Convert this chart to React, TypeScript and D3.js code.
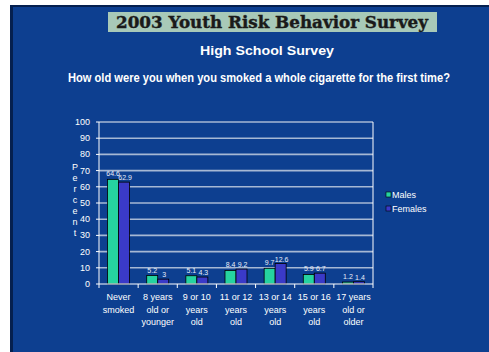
import React from "react";
import * as d3 from "d3";

const categories = [
  ["Never", "smoked"],
  ["8 years", "old or", "younger"],
  ["9 or 10", "years", "old"],
  ["11 or 12", "years", "old"],
  ["13 or 14", "years", "old"],
  ["15 or 16", "years", "old"],
  ["17 years", "old or", "older"],
];
const males = [64.6, 5.2, 5.1, 8.4, 9.7, 5.9, 1.2];
const females = [62.9, 3, 4.3, 9.2, 12.6, 6.7, 1.4];
const maleLabels = ["64.6", "5.2", "5.1", "8.4", "9.7", "5.9", "1.2"];
const femaleLabels = ["62.9", "3", "4.3", "9.2", "12.6", "6.7", "1.4"];
const yTicks = [0, 10, 20, 30, 40, 50, 60, 70, 80, 90, 100];
const seriesNames = ["Males", "Females"];

const W = 489;
const H = 352;
const BG = "#0d3f90";
const MALE = "#26d3a0";
const FEMALE = "#3a3ac8";
const GRID = "#a6b8d4";

export default function App() {
  const plot = { left: 99, right: 373, top: 122, bottom: 284 };
  const y = d3.scaleLinear().domain([0, 100]).range([plot.bottom, plot.top]);
  const x = d3
    .scaleBand<number>()
    .domain(d3.range(categories.length))
    .range([plot.left, plot.right]);
  const barW = 11;
  const font = "'Liberation Sans', Arial, sans-serif";

  return (
    <svg
      width={W}
      height={H}
      style={{ position: "absolute", left: 0, top: 0 }}
      fontFamily={font}
    >
      <rect x={0} y={0} width={W} height={H} fill="#ffffff" />
      <rect x={10} y={5} width={W - 10} height={H - 5} fill="#05204f" />
      <rect x={13} y={7} width={W - 13} height={H - 7} fill={BG} />

      {/* banner */}
      <rect x={108} y={12} width={329} height={20} fill="#a8c9b8" />
      <text
        x={272}
        y={28}
        textAnchor="middle"
        fontFamily="'DejaVu Serif', serif"
        fontWeight="bold"
        fontSize={16}
        fill="#1a1a1a"
        stroke="#1a1a1a"
        strokeWidth={0.4}
        textLength={312}
        lengthAdjust="spacingAndGlyphs"
      >
        2003 Youth Risk Behavior Survey
      </text>
      <text
        x={267}
        y={55}
        textAnchor="middle"
        fontWeight="bold"
        fontSize={13.5}
        fill="#ffffff"
        textLength={134}
        lengthAdjust="spacingAndGlyphs"
      >
        High School Survey
      </text>
      <text
        x={259}
        y={82}
        textAnchor="middle"
        fontWeight="bold"
        fontSize={12}
        fill="#ffffff"
        textLength={382}
        lengthAdjust="spacingAndGlyphs"
      >
        How old were you when you smoked a whole cigarette for the first time?
      </text>

      {/* grid */}
      {yTicks.map((t) => (
        <g key={t}>
          {t > 0 && (
            <line
              x1={plot.left}
              x2={plot.right}
              y1={y(t)}
              y2={y(t)}
              stroke={GRID}
              strokeWidth={1.6}
            />
          )}
          <line
            x1={plot.left - 3}
            x2={plot.left}
            y1={y(t)}
            y2={y(t)}
            stroke="#ffffff"
          />
          <text
            x={plot.left - 9}
            y={y(t) + 3}
            textAnchor="end"
            fontSize={9}
            fill="#ffffff"
          >
            {t}
          </text>
        </g>
      ))}
      <line
        x1={plot.right}
        x2={plot.right}
        y1={plot.top}
        y2={plot.bottom}
        stroke="#ffffff"
      />

      {/* bars */}
      {categories.map((_, i) => {
        const cx = (x(i) as number) + x.bandwidth() / 2;
        return (
          <g key={i}>
            <rect
              x={cx - barW}
              y={y(males[i])}
              width={barW}
              height={plot.bottom - y(males[i])}
              fill={MALE}
              stroke="#000000"
              strokeWidth={0.8}
            />
            <rect
              x={cx}
              y={y(females[i])}
              width={barW}
              height={plot.bottom - y(females[i])}
              fill={FEMALE}
              stroke="#000000"
              strokeWidth={0.8}
            />
            <text
              x={cx - barW / 2}
              y={y(males[i]) - 3}
              textAnchor="middle"
              fontSize={7}
              fill="#e8eef8"
            >
              {maleLabels[i]}
            </text>
            <text
              x={cx + barW / 2 + 1}
              y={y(females[i]) - 2}
              textAnchor="middle"
              fontSize={7}
              fill="#e8eef8"
            >
              {femaleLabels[i]}
            </text>
          </g>
        );
      })}

      {/* axes */}
      <line
        x1={plot.left}
        x2={plot.left}
        y1={plot.top}
        y2={plot.bottom}
        stroke="#ffffff"
      />
      <line
        x1={plot.left}
        x2={plot.right}
        y1={plot.bottom}
        y2={plot.bottom}
        stroke="#ffffff"
      />
      {d3.range(categories.length + 1).map((i) => {
        const xx = plot.left + i * x.step();
        return (
          <line
            key={i}
            x1={xx}
            x2={xx}
            y1={plot.bottom}
            y2={plot.bottom + 4}
            stroke="#ffffff"
          />
        );
      })}

      {/* category labels */}
      {categories.map((lines, i) => {
        const cx = (x(i) as number) + x.bandwidth() / 2;
        return (
          <text
            key={i}
            textAnchor="middle"
            fontSize={9}
            fill="#ffffff"
          >
            {lines.map((l, j) => (
              <tspan key={j} x={cx} y={300 + j * 12.5}>
                {l}
              </tspan>
            ))}
          </text>
        );
      })}

      {/* vertical axis title */}
      {"Percent".split("").map((c, i) => (
        <text
          key={i}
          x={75}
          y={170 + i * 11}
          textAnchor="middle"
          fontSize={9}
          fill="#ffffff"
        >
          {c}
        </text>
      ))}

      {/* legend */}
      {seriesNames.map((name, i) => (
        <g key={name}>
          <rect
            x={386}
            y={192 + i * 14}
            width={5}
            height={5}
            fill={i === 0 ? MALE : FEMALE}
            stroke="#000000"
            strokeWidth={0.6}
          />
          <text x={392} y={198 + i * 14} fontSize={9} fill="#ffffff">
            {name}
          </text>
        </g>
      ))}
    </svg>
  );
}
